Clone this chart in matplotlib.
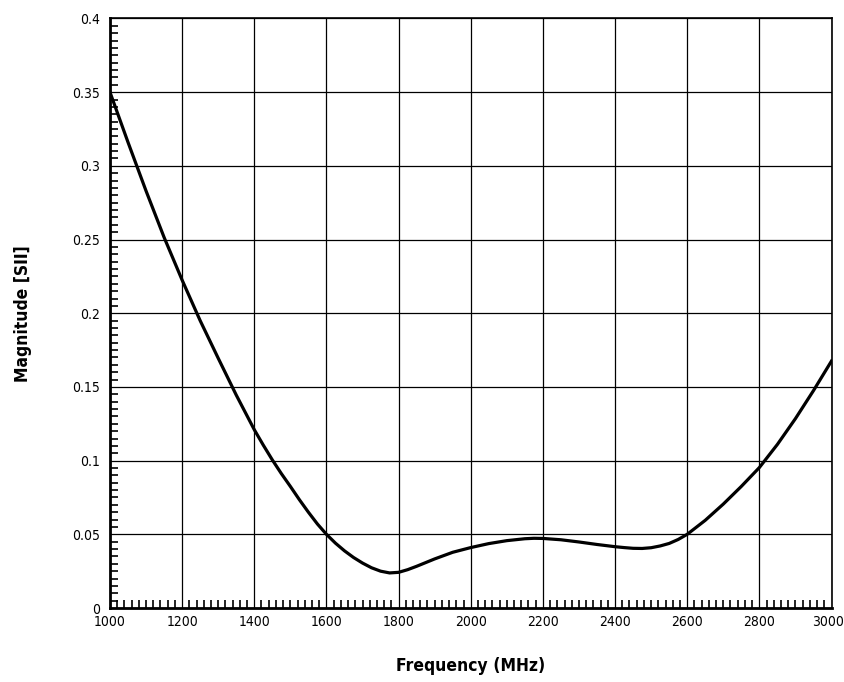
import matplotlib
matplotlib.use("Agg")
import matplotlib.pyplot as plt
import matplotlib.transforms as mtransforms
from matplotlib.ticker import MultipleLocator, FuncFormatter

freq_mhz = [1000, 1050, 1100, 1150, 1200, 1250, 1300, 1350, 1400, 1425, 1450, 1475,
            1500, 1525, 1550, 1575, 1600, 1625, 1650, 1675, 1700, 1725, 1750, 1775,
            1800, 1825, 1850, 1875, 1900, 1950, 2000, 2050, 2100, 2150, 2175, 2200,
            2250, 2300, 2350, 2400, 2425, 2450, 2475, 2500, 2525, 2550, 2575, 2600,
            2650, 2700, 2750, 2800, 2850, 2900, 2950, 3000]
s11_mag = [0.350, 0.316, 0.283, 0.2515, 0.2225, 0.195, 0.1695, 0.1445, 0.121, 0.1105, 0.1005, 0.0912,
           0.0825, 0.0735, 0.065, 0.057, 0.050, 0.044, 0.0388, 0.0343, 0.0305, 0.0273, 0.0250, 0.0238,
           0.0242, 0.026, 0.0283, 0.0308, 0.0333, 0.0378, 0.0410, 0.0437, 0.0457, 0.0470, 0.0473, 0.0472,
           0.0463, 0.0448, 0.0431, 0.0416, 0.0410, 0.0405, 0.0404, 0.0409, 0.0421, 0.0438, 0.0465, 0.050,
           0.0595, 0.0705, 0.0825, 0.0953, 0.1110, 0.1285, 0.1475, 0.1676]

x_ticks = [1000, 1200, 1400, 1600, 1800, 2000, 2200, 2400, 2600, 2800, 3000]
y_ticks = [0, 0.05, 0.1, 0.15, 0.2, 0.25, 0.3, 0.35, 0.4]

plt.rcParams['font.family'] = ['DejaVu Sans']
plt.rcParams['font.stretch'] = 'condensed'

fig = plt.figure(figsize=(8.44, 6.82), dpi=100)
ax = fig.add_axes([0.1303, 0.1085, 0.8549, 0.8644])

ax.plot(freq_mhz, s11_mag, color='black', lw=2.3)

ax.set_xlim(1000, 3000)
ax.set_ylim(0, 0.4)
ax.set_xticks(x_ticks)
ax.set_yticks(y_ticks)
ax.yaxis.set_major_formatter(FuncFormatter(lambda v, p: f"{v:g}"))
ax.xaxis.set_minor_locator(MultipleLocator(20))
ax.yaxis.set_minor_locator(MultipleLocator(0.005))
ax.grid(True, which='major', color='black', lw=0.9)
ax.tick_params(which='both', direction='in', top=False, right=False, labelsize=10, colors='black')
ax.tick_params(axis='y', which='major', length=0, pad=7)
ax.tick_params(axis='x', which='major', length=0, pad=5)
ax.tick_params(which='minor', length=6, width=1.2)
for lab in ax.get_xticklabels() + ax.get_yticklabels():
    lab.set_fontstretch('condensed')
xlabs = ax.get_xticklabels()
xlabs[-1].set_transform(xlabs[-1].get_transform() +
                        mtransforms.ScaledTranslation(-3 / 100, 0, fig.dpi_scale_trans))
for s in ax.spines.values():
    s.set_linewidth(1.2)
ax.spines['left'].set_linewidth(2)
ax.spines['bottom'].set_linewidth(2)

ax.set_xlabel("Frequency (MHz)", fontsize=12.5, fontweight='bold', fontstretch='condensed', labelpad=20)
ax.set_ylabel("Magnitude [SII]", fontsize=12.5, fontweight='bold', fontstretch='condensed', labelpad=29)

fig.savefig("out.png", dpi=100)
